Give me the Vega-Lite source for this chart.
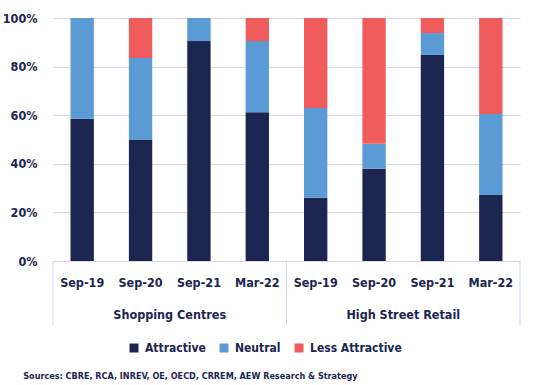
{
  "$schema": "https://vega.github.io/schema/vega-lite/v6.json",
  "width": 467,
  "height": 243,
  "autosize": {"type": "none"},
  "padding": {"left": 53, "top": 18, "right": 22, "bottom": 124},
  "background": "white",
  "config": {
    "font": "DejaVu Sans Condensed",
    "view": {"stroke": null}
  },
  "title": {
    "text": "Sources: CBRE, RCA, INREV, OE, OECD, CRREM, AEW Research & Strategy",
    "orient": "bottom",
    "anchor": "start",
    "dx": 21,
    "offset": 18,
    "fontSize": 9,
    "fontWeight": "bold",
    "color": "#1b2550",
    "font": "DejaVu Sans Condensed"
  },
  "datasets": {
    "bars": [
      {"key": "Shopping Centres|Sep-19", "category": "Attractive", "value": 58.5},
      {"key": "Shopping Centres|Sep-19", "category": "Neutral", "value": 41.5},
      {"key": "Shopping Centres|Sep-19", "category": "Less Attractive", "value": 0},
      {"key": "Shopping Centres|Sep-20", "category": "Attractive", "value": 50},
      {"key": "Shopping Centres|Sep-20", "category": "Neutral", "value": 33.5},
      {"key": "Shopping Centres|Sep-20", "category": "Less Attractive", "value": 16.5},
      {"key": "Shopping Centres|Sep-21", "category": "Attractive", "value": 90.5},
      {"key": "Shopping Centres|Sep-21", "category": "Neutral", "value": 9.5},
      {"key": "Shopping Centres|Sep-21", "category": "Less Attractive", "value": 0},
      {"key": "Shopping Centres|Mar-22", "category": "Attractive", "value": 61.2},
      {"key": "Shopping Centres|Mar-22", "category": "Neutral", "value": 29.3},
      {"key": "Shopping Centres|Mar-22", "category": "Less Attractive", "value": 9.5},
      {"key": "High Street Retail|Sep-19", "category": "Attractive", "value": 26},
      {"key": "High Street Retail|Sep-19", "category": "Neutral", "value": 37},
      {"key": "High Street Retail|Sep-19", "category": "Less Attractive", "value": 37},
      {"key": "High Street Retail|Sep-20", "category": "Attractive", "value": 38},
      {"key": "High Street Retail|Sep-20", "category": "Neutral", "value": 10.2},
      {"key": "High Street Retail|Sep-20", "category": "Less Attractive", "value": 51.8},
      {"key": "High Street Retail|Sep-21", "category": "Attractive", "value": 84.8},
      {"key": "High Street Retail|Sep-21", "category": "Neutral", "value": 9},
      {"key": "High Street Retail|Sep-21", "category": "Less Attractive", "value": 6.2},
      {"key": "High Street Retail|Mar-22", "category": "Attractive", "value": 27.2},
      {"key": "High Street Retail|Mar-22", "category": "Neutral", "value": 33.3},
      {"key": "High Street Retail|Mar-22", "category": "Less Attractive", "value": 39.5}
    ],
    "groups": [
      {"key": "Shopping Centres|Sep-20", "group": "Shopping Centres"},
      {"key": "High Street Retail|Sep-20", "group": "High Street Retail"}
    ],
    "leftEdges": [
      {"key": "Shopping Centres|Sep-19"},
      {"key": "High Street Retail|Sep-19"}
    ],
    "rightEdge": [
      {"key": "High Street Retail|Mar-22"}
    ]
  },
  "resolve": {"scale": {"x": "shared", "y": "shared"}},
  "layer": [
    {
      "data": {"name": "bars"},
      "transform": [
        {"calculate": "indexof(['Attractive','Neutral','Less Attractive'], datum.category)", "as": "ord"}
      ],
      "mark": {"type": "bar"},
      "encoding": {
        "x": {
          "field": "key",
          "type": "nominal",
          "scale": {
            "domain": [
              "Shopping Centres|Sep-19", "Shopping Centres|Sep-20", "Shopping Centres|Sep-21", "Shopping Centres|Mar-22",
              "High Street Retail|Sep-19", "High Street Retail|Sep-20", "High Street Retail|Sep-21", "High Street Retail|Mar-22"
            ],
            "paddingInner": 0.6,
            "paddingOuter": 0.3
          },
          "axis": {
            "title": null,
            "labelExpr": "split(datum.label, '|')[1]",
            "labelAngle": 0,
            "labelFontSize": 12.5,
            "labelColor": "#1b2550",
            "labelFontWeight": "bold",
            "labelPadding": 15,
            "ticks": false,
            "domainColor": "#d3d7ee",
            "domainWidth": 1
          }
        },
        "y": {
          "field": "value",
          "type": "quantitative",
          "stack": "zero",
          "scale": {"domain": [0, 100], "nice": false, "zero": true},
          "axis": {
            "title": null,
            "values": [0, 20, 40, 60, 80, 100],
            "labelExpr": "datum.value + '%'",
            "labelFontSize": 12.5,
            "labelColor": "#1b2550",
            "labelFontWeight": "bold",
            "labelPadding": 16,
            "ticks": false,
            "domain": false,
            "gridColor": "#d3d7ee",
            "gridWidth": 1
          }
        },
        "color": {
          "field": "category",
          "type": "nominal",
          "scale": {
            "domain": ["Attractive", "Neutral", "Less Attractive"],
            "range": ["#1b2550", "#5b9bd5", "#f05b5b"]
          },
          "legend": {
            "title": null,
            "orient": "none",
            "direction": "horizontal",
            "legendX": 75,
            "legendY": 324,
            "symbolType": "square",
            "symbolSize": 81,
            "symbolStrokeWidth": 0,
            "labelFontSize": 12,
            "labelFontWeight": "bold",
            "labelColor": "#1b2550",
            "columnPadding": 12,
            "labelOffset": 5
          }
        },
        "order": {"field": "ord", "type": "quantitative"}
      }
    },
    {
      "data": {"name": "groups"},
      "mark": {"type": "text", "fontSize": 12.5, "fontWeight": "bold", "color": "#1b2550", "baseline": "middle", "align": "center"},
      "encoding": {
        "x": {"field": "key", "type": "nominal", "bandPosition": 1.75},
        "y": {"datum": -22.4, "type": "quantitative"},
        "text": {"field": "group"}
      }
    },
    {
      "data": {"name": "leftEdges"},
      "mark": {"type": "rule", "color": "#d3d7ee", "strokeWidth": 1},
      "encoding": {
        "x": {"field": "key", "type": "nominal", "bandPosition": -0.75},
        "y": {"datum": 0, "type": "quantitative"},
        "y2": {"datum": -26.5}
      }
    },
    {
      "data": {"name": "rightEdge"},
      "mark": {"type": "rule", "color": "#d3d7ee", "strokeWidth": 1},
      "encoding": {
        "x": {"field": "key", "type": "nominal", "bandPosition": 1.75},
        "y": {"datum": 0, "type": "quantitative"},
        "y2": {"datum": -26.5}
      }
    }
  ]
}
